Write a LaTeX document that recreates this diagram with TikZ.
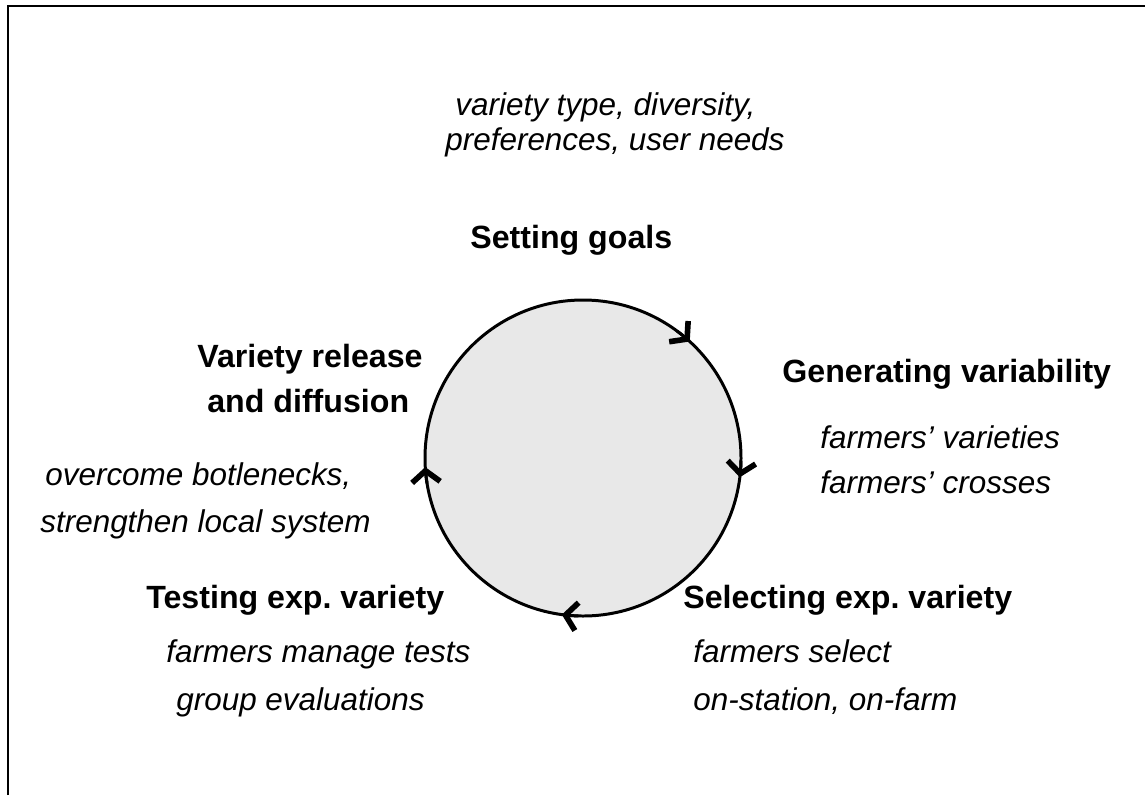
\documentclass[tikz,border=0pt]{standalone}
\usepackage{fontspec}
\setmainfont{Liberation Sans}
\usetikzlibrary{arrows.meta}
\definecolor{discgray}{RGB}{232,232,232}

\begin{document}
\begin{tikzpicture}[x=0.02cm,y=-0.02cm,
  stage/.style={inner sep=0pt,anchor=base west,font=\fontsize{18.3}{21}\selectfont\bfseries},
  note/.style={inner sep=0pt,anchor=base west,font=\fontsize{17.9}{21}\selectfont\itshape},
  cyclehead/.tip={Straight Barb[length=6.5pt,width=16pt,line width=3.2pt]},
  rim/.style={line width=1.7pt}]
\useasboundingbox (0,0) rectangle (1145,795);
% frame
\draw[line width=1.1pt] (8,795) -- (8,6) -- (1145,6);
% the cycle
\coordinate (c) at (583,458);
\draw[rim,fill=discgray] (c) circle[radius=158];
\foreach \a in {312.5,7,97.7,176.7}
  \draw[rim,-{cyclehead}] (c) ++(\a-6:158) arc[start angle=\a-6,end angle=\a,radius=158];
% setting goals
\node[note] (goalsa) at (455,115) {variety type, diversity,};
\node[note] (goalsb) at (445,150) {preferences, user needs};
\node[stage] (goals) at (470,248) {Setting goals};
% generating variability
\node[stage] (gen) at (782,382) {Generating variability};
\node[note] (gena) at (820,448) {farmers’ varieties};
\node[note] (genb) at (820,493) {farmers’ crosses};
% selecting
\node[stage] (sel) at (683,608) {Selecting exp.\ variety};
\node[note] (sela) at (693,662) {farmers select};
\node[note] (selb) at (693,710) {on-station, on-farm};
% testing
\node[stage] (test) at (146,608) {Testing exp.\ variety};
\node[note] (testa) at (166,662) {farmers manage tests};
\node[note] (testb) at (176,710) {group evaluations};
% release
\node[stage] (rel) at (197,367) {Variety release};
\node[stage] (relb) at (207,412) {and diffusion};
\node[note] (rela) at (45,485) {overcome botlenecks,};
\node[note] (relc) at (40,532) {strengthen local system};
\end{tikzpicture}
\end{document}
